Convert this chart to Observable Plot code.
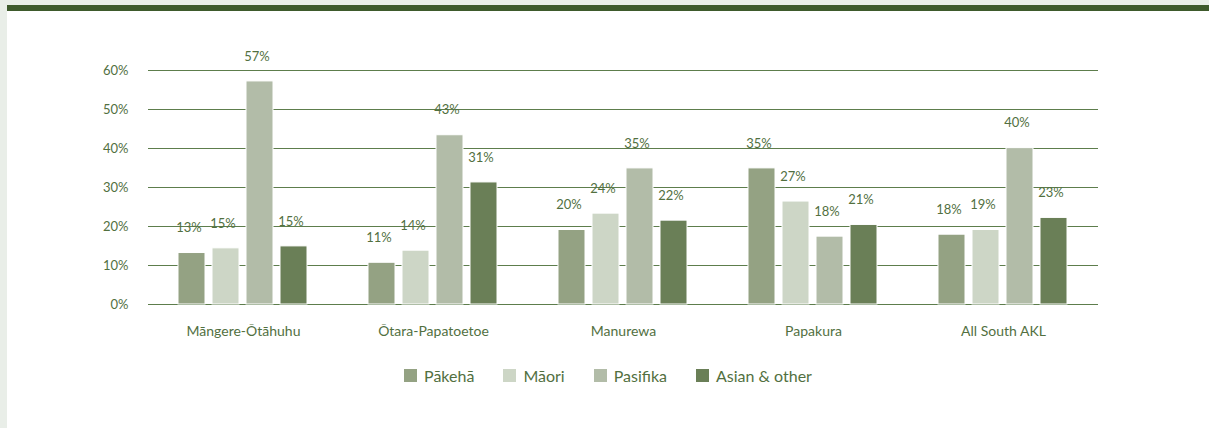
<!DOCTYPE html>
<html><head><meta charset="utf-8">
<script src="https://cdn.jsdelivr.net/npm/d3@7"></script>
<script src="https://cdn.jsdelivr.net/npm/@observablehq/plot@0.6"></script>
<style>
html,body{margin:0;padding:0;background:#e9eee8;width:1209px;height:428px;overflow:hidden;font-family:Lato,sans-serif;}
#card{position:absolute;left:7px;top:5px;width:1202px;height:423px;background:#fff;border-top:6px solid #3e5a2c;box-sizing:border-box;}
#chart svg{display:block;}
#legend{margin-top:12px;display:flex;justify-content:center;}
#legend > div{display:flex;justify-content:center;align-items:center;min-height:0;height:24px;margin:0;font-family:Lato,sans-serif;font-size:16px;color:#52703f;}
#legend span{margin-right:29px;display:inline-flex;align-items:center;}
#legend span:last-child{margin-right:0;}
#legend span > svg{margin-right:7px;}
</style></head><body>
<div id="card"><div id="chart"></div><div id="legend"></div></div>
<script>
const areas = ["Māngere-Ōtāhuhu", "Ōtara-Papatoetoe", "Manurewa", "Papakura", "All South AKL"];
const groups = ["Pākehā", "Māori", "Pasifika", "Asian & other"];
const colors = ["#94a283", "#cdd6c6", "#b2bca8", "#6a7f57"];
const pakeha = [13.2, 10.7, 19.1, 34.9, 17.9];
const maori = [14.4, 13.8, 23.3, 26.4, 19.1];
const pasifika = [57.2, 43.4, 34.9, 17.4, 40.1];
const asian = [14.9, 31.3, 21.5, 20.4, 22.2];
const pakehaLabels = [13, 11, 20, 35, 18];
const maoriLabels = [15, 14, 24, 27, 19];
const pasifikaLabels = [57, 43, 35, 18, 40];
const asianLabels = [15, 31, 22, 21, 23];
const yTicks = [0, 10, 20, 30, 40, 50, 60];

const seriesValues = [pakeha, maori, pasifika, asian];
const seriesLabels = [pakehaLabels, maoriLabels, pasifikaLabels, asianLabels];
const rows = [];
areas.forEach((a, i) => groups.forEach((g, j) => rows.push({area: a, group: g, value: seriesValues[j][i], label: seriesLabels[j][i]})));

const textColor = "#52703f";
const chart = Plot.plot({
  width: 1202, height: 340,
  marginTop: 59, marginLeft: 141, marginRight: 111, marginBottom: 47,
  style: {fontFamily: "Lato, sans-serif", fontSize: "13px", color: textColor, background: "transparent"},
  fx: {domain: areas, paddingInner: 0, paddingOuter: 0, label: null, axis: "bottom", tickSize: 0, tickPadding: 22, fontSize: 14},
  x: {domain: groups, paddingInner: 0.2, paddingOuter: 0.85, axis: null},
  y: {domain: [0, 60], ticks: yTicks, tickFormat: d => d + "%", tickSize: 0, tickPadding: 20, label: null},
  color: {domain: groups, range: colors},
  marks: [
    Plot.ruleY(yTicks, {stroke: "#5d7d4c", strokeWidth: 1}),
    Plot.barY(rows, {fx: "area", x: "group", y: "value", fill: "group", stroke: "#ffffff", strokeWidth: 1}),
    Plot.text(rows, {fx: "area", x: "group", y: "value", text: d => d.label + "%", dy: -25, dx: -3, fill: textColor, fontSize: 13})
  ]
});
chart.querySelectorAll("[aria-label='fx-axis tick label'] text, g[aria-label='fx-axis tick label'] text").forEach(t => t.setAttribute("font-size", 14));
document.getElementById("chart").appendChild(chart);
const legend = Plot.legend({color: {domain: groups, range: colors}, legend: "swatches", swatchSize: 13});
document.getElementById("legend").appendChild(legend);
</script>
</body></html>
